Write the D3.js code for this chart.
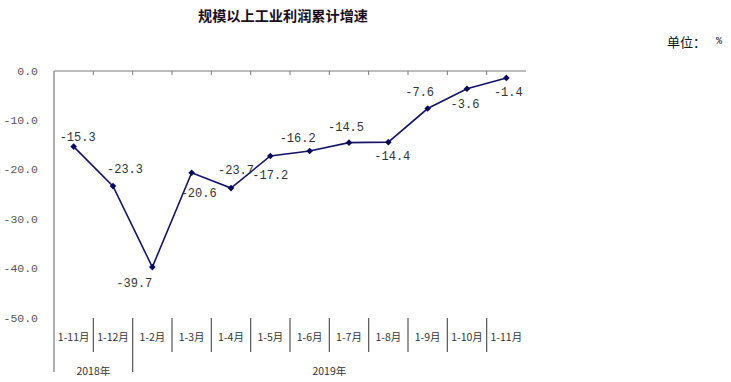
<!DOCTYPE html>
<html><head><meta charset="utf-8">
<script src="https://cdn.jsdelivr.net/npm/d3@7"></script>
<style>
html,body{margin:0;padding:0;background:#fff;}
svg{display:block;}
</style></head>
<body>
<script>
// ---- data ----
const categories = ["1-11月","1-12月","1-2月","1-3月","1-4月","1-5月","1-6月","1-7月","1-8月","1-9月","1-10月","1-11月"];
const values = [-15.3,-23.3,-39.7,-20.6,-23.7,-17.2,-16.2,-14.5,-14.4,-7.6,-3.6,-1.4];
const years = [{label:"2018年", from:0, to:2}, {label:"2019年", from:2, to:12}];
const yTicks = [0,-10,-20,-30,-40,-50];
const title = "规模以上工业利润累计增速";
const unitText = "单位：";
const unitSym = "%";

// ---- layout (label offsets relative to each point) ----
const labelDx = [4,12,-18,7,5,0,-12,-3,4,-8,-2,2];
const labelDy = [-9,-16,17,21,-17,20,-12,-15,15,-16,16,15];

const W = 731, H = 382;
const pLeft = 54, pRight = 526, pTop = 71, pBottom = 318;
const svg = d3.select("body").append("svg").attr("width", W).attr("height", H);

const x = d3.scaleBand().domain(d3.range(categories.length)).range([pLeft, pRight]);
const y = d3.scaleLinear().domain([-50, 0]).range([pBottom, pTop]);

// title
svg.append("text").attr("x", 283).attr("y", 15).attr("text-anchor","middle")
  .attr("dominant-baseline","central")
  .style("font-family","'Noto Sans CJK SC'").style("font-weight","bold").style("font-size","14px")
  .attr("textLength", 170).attr("lengthAdjust","spacingAndGlyphs")
  .attr("fill","#1c0c1c").text(title);

svg.append("text").attr("x", 667).attr("y", 41).attr("dominant-baseline","central")
  .style("font-family","'Noto Sans CJK SC'").style("font-size","13px").attr("fill","#111").text(unitText);
svg.append("text").attr("x", 719).attr("y", 41).attr("text-anchor","middle").attr("dominant-baseline","central")
  .style("font-family","'Liberation Mono'").style("font-size","10px").attr("fill","#111").text(unitSym);

// y tick labels
svg.append("g").selectAll("text").data(yTicks).join("text")
  .attr("x", 38).attr("y", d => y(d)).attr("text-anchor","end").attr("dominant-baseline","central")
  .style("font-family","'Liberation Mono'").style("font-size","11.5px").attr("fill","#555")
  .text(d => d3.format(".1f")(d).replace("−","-"));

const axisColor = "#7a7a7a";
// top axis line (at 0)
svg.append("line").attr("x1", pLeft).attr("x2", pRight).attr("y1", y(0)).attr("y2", y(0))
  .attr("stroke", axisColor).attr("stroke-width", 1);
// top ticks at category boundaries
svg.append("g").selectAll("line").data(d3.range(1, categories.length)).join("line")
  .attr("x1", i => x(i)).attr("x2", i => x(i)).attr("y1", y(0)).attr("y2", y(0) + 4)
  .attr("stroke", axisColor);
// left axis line
svg.append("line").attr("x1", pLeft).attr("x2", pLeft).attr("y1", y(0)).attr("y2", 372)
  .attr("stroke", axisColor).attr("stroke-width", 1.2);

// category separators
const yearBounds = years.map(d => d.from).filter(d => d > 0);
svg.append("g").selectAll("line").data(d3.range(1, categories.length)).join("line")
  .attr("x1", i => x(i)).attr("x2", i => x(i)).attr("y1", pBottom)
  .attr("y2", i => yearBounds.includes(i) ? 372 : 352)
  .attr("stroke", "#555").attr("stroke-width", 1.2);

// category labels
svg.append("g").selectAll("text").data(categories).join("text")
  .attr("x", (d,i) => x(i) + x.bandwidth()/2).attr("y", 336)
  .attr("text-anchor","middle").attr("dominant-baseline","central")
  .style("font-family","'Noto Sans CJK SC'").style("font-size","10.5px").attr("fill","#333")
  .text(d => d);

// year labels
svg.append("g").selectAll("text").data(years).join("text")
  .attr("x", d => (x(d.from) + (d.to >= categories.length ? pRight : x(d.to))) / 2).attr("y", 370)
  .attr("text-anchor","middle").attr("dominant-baseline","central")
  .style("font-family","'Noto Sans CJK SC'").style("font-size","10.5px").attr("fill","#333")
  .text(d => d.label);

// line
const cx = i => x(i) + x.bandwidth()/2;
svg.append("path").datum(values)
  .attr("d", d3.line().x((d,i) => cx(i)).y(d => y(d)))
  .attr("fill","none").attr("stroke","#141466").attr("stroke-width",1.6);

// markers (rotated squares)
svg.append("g").selectAll("path").data(values).join("path")
  .attr("transform", (d,i) => `translate(${cx(i)},${y(d)}) rotate(45)`)
  .attr("d", d3.symbol(d3.symbolSquare, 22))
  .attr("fill","#0a0a5a");

// data labels
svg.append("g").selectAll("text").data(values).join("text")
  .attr("x", (d,i) => cx(i) + labelDx[i]).attr("y", (d,i) => y(d) + labelDy[i])
  .attr("text-anchor","middle").attr("dominant-baseline","central")
  .style("font-family","'Liberation Mono'").style("font-size","12px").attr("fill","#333")
  .text(d => d.toFixed(1));
</script>
</body></html>
